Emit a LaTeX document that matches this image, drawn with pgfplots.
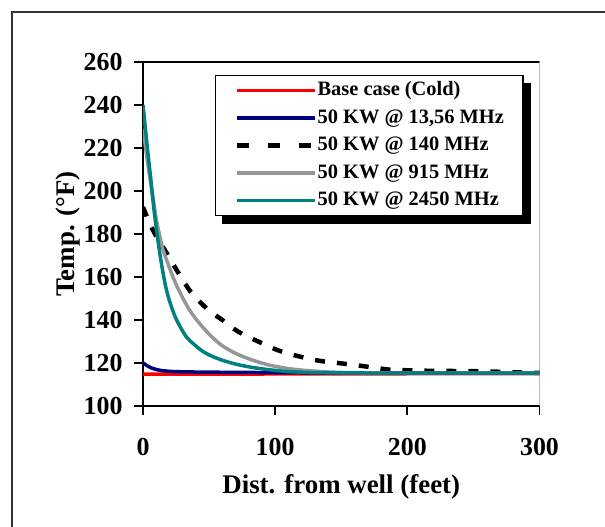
\documentclass[border=0pt]{standalone}
\usepackage{fontspec}
\setmainfont{Liberation Serif}
\usepackage{pgfplots}
\pgfplotsset{compat=1.18}
\usetikzlibrary{backgrounds}
\definecolor{navyb}{RGB}{0,0,128}
\definecolor{tealc}{RGB}{0,128,128}
\definecolor{grayc}{RGB}{150,150,150}
\begin{document}
\begin{tikzpicture}
\useasboundingbox (0,0) rectangle (605bp,527bp);
\draw[line width=2bp, black!80] (12bp,0) -- (12bp,515.3bp) -- (605bp,515.3bp);
\begin{axis}[
  at={(143bp,121bp)}, anchor=south west,
  scale only axis, width=396.5bp, height=344bp,
  xmin=0, xmax=300, ymin=100, ymax=260,
  xtick={0,100,200,300}, ytick={100,120,...,260},
  axis x line*=bottom, axis y line*=left,
  axis line style={line width=2.2bp, black},
  tick align=outside, major tick length=9bp,
  every tick/.style={black, line width=1.8bp},
  /pgf/number format/assume math mode=true,
  tick label style={font=\fontsize{26}{26}\selectfont\bfseries},
  xticklabel style={yshift=-20bp},
  yticklabel style={xshift=-8bp},
  label style={font=\fontsize{27}{27}\selectfont\bfseries},
  xlabel={Dist. from well (feet)},
  ylabel={Temp. (°F)},
  xlabel style={at={(axis description cs:0.5,-0.253)}, anchor=base},
  ylabel style={at={(axis description cs:-0.189,0.5)}, anchor=center},
  legend style={name=legbox, at={(0.1816,0.962)}, anchor=north west, draw=black, line width=1.2bp,
    fill=white, font=\fontsize{20.5}{20.5}\selectfont\bfseries,
    inner xsep=19bp, inner ysep=5bp, row sep=7.5bp,
    nodes={inner sep=0bp, text height=15bp, text depth=5bp},
    /tikz/every even column/.append style={column sep=4bp}},
  legend image code/.code={\draw[#1] (0bp,0bp) -- (78bp,0bp);},
  legend cell align=left,
]
\draw[line width=1.2bp, black] (rel axis cs:0,1) -- (rel axis cs:1,1);
\draw[line width=2bp, grayc] (rel axis cs:1,1) -- (rel axis cs:1,0);
\addplot[red, line width=3.5bp] coordinates {(0,114.8) (50,114.8) (100,114.9) (200,115) (300,115)};
\addlegendentry{Base case (Cold)}
\addplot[navyb, line width=3.5bp, smooth] coordinates {(0,120) (3,118.8) (6,117.8) (10,117) (15,116.4) (24,116) (40,115.8) (80,115.6) (150,115.4) (300,115.3)};
\addlegendentry{50 KW @ 13,56 MHz}
\addplot[black, line width=4.5bp, dash pattern=on 10bp off 12bp, smooth,
  legend image code/.code={\draw[black, line width=5bp, dash pattern=on 12bp off 19bp] (0bp,0bp) -- (78bp,0bp);}]
  coordinates {(0,192.5) (5,185) (10,179) (18,171) (27,161.7) (37,152.4) (49.5,144.7) (60,140) (72,134.6) (87.5,129.9) (105,125.3) (130,121.4) (149,119.9) (166,118.6) (185,117) (195,116.7) (214,116.4) (248,116.2) (265,116) (285,115.6) (300,115.4)};
\addlegendentry{50 KW @ 140 MHz}
\addplot[grayc, line width=3.5bp, smooth] coordinates {(0,229) (2,220) (4,211) (6,203) (8,195) (10,187) (12,181) (15,173) (19,166) (23,159.5) (27,154) (32,148) (37,143) (44,137.5) (52,132.2) (60,128) (70,124.5) (82,121.5) (95,119.1) (108,117.6) (120,116.7) (135,116) (150,115.6) (175,115.4) (200,115.3) (300,115.3)};
\addlegendentry{50 KW @ 915 MHz}
\addplot[tealc, line width=3.5bp, smooth] coordinates {(0,240) (2,228) (4,216) (6,205) (8,193) (10,183) (12,174) (14,166) (17,156) (20,149) (24,142) (28,137) (33,132) (38,129) (45,125.5) (52,123.2) (60,121.3) (70,119.5) (82,118) (95,116.9) (108,116.1) (125,115.6) (150,115.4) (200,115.3) (300,115.3)};
\addlegendentry{50 KW @ 2450 MHz}
\end{axis}
\begin{scope}[on background layer]
\fill[black] ([xshift=7bp,yshift=-8bp]legbox.south west) rectangle ([xshift=7bp,yshift=-8bp]legbox.north east);
\end{scope}
\end{tikzpicture}
\end{document}
